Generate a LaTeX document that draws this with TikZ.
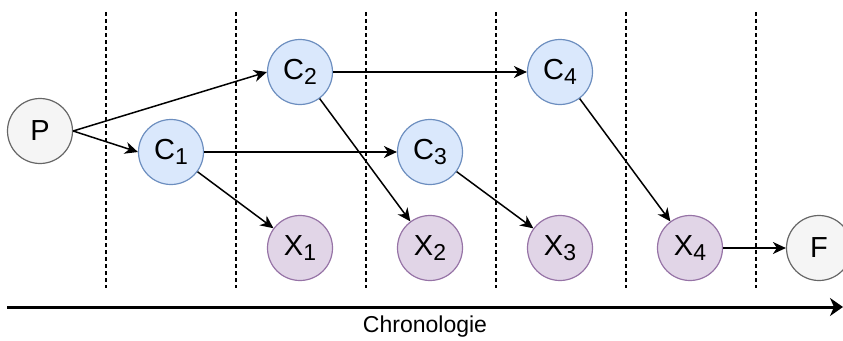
\documentclass[tikz,border=0pt]{standalone}
\usepackage{fontspec}
\setmainfont{Liberation Sans}
\usetikzlibrary{arrows.meta}

\definecolor{cfill}{HTML}{DAE8FC}
\definecolor{cline}{HTML}{6C8EBF}
\definecolor{xfill}{HTML}{E1D5E7}
\definecolor{xline}{HTML}{9673A6}
\definecolor{gfill}{HTML}{F5F5F5}
\definecolor{gline}{HTML}{666666}

\newcommand{\ind}[1]{\raisebox{-0.35ex}{\fontsize{23}{23}\selectfont #1}}

\begin{document}
\begin{tikzpicture}[x=1pt,y=-1pt,
  etat/.style={circle,minimum size=65pt,inner sep=0pt,line width=1.2pt,font=\fontsize{29}{32}\selectfont},
  cnode/.style={etat,fill=cfill,draw=cline},
  xnode/.style={etat,fill=xfill,draw=xline},
  gnode/.style={etat,fill=gfill,draw=gline},
  fleche/.style={line width=1.5pt,-{Stealth[length=13pt,width=12pt,inset=4pt]}},
  sep/.style={line width=1.3pt,dash pattern=on 4pt off 3pt}]

\useasboundingbox (0,0) rectangle (843,340);

% separations
\foreach \x in {106,236,366,496,626,756}
  \draw[sep] (\x,12) -- (\x,288);

% etats
\node[gnode] (P) at (40,131) {P};
\node[cnode] (C1) at (171,152) {C\ind{1}};
\node[cnode] (C2) at (300,72) {C\ind{2}};
\node[cnode] (C3) at (430,152) {C\ind{3}};
\node[cnode] (C4) at (560,72) {C\ind{4}};
\node[xnode] (X1) at (300,248) {X\ind{1}};
\node[xnode] (X2) at (430,248) {X\ind{2}};
\node[xnode] (X3) at (560,248) {X\ind{3}};
\node[xnode] (X4) at (690,248) {X\ind{4}};
\node[gnode] (F) at (819,248) {F};

% transitions
\draw[fleche] (P.east) -- (C2.west);
\draw[fleche] (P.east) -- (C1.west);
\draw[fleche] (C1.east) -- (C3.west);
\draw[fleche] (C2.east) -- (C4.west);
\draw[fleche] (C1) -- (X1);
\draw[fleche] (C2) -- (X2);
\draw[fleche] (C3) -- (X3);
\draw[fleche] (C4) -- (X4);
\draw[fleche] (X4.east) -- (F.west);

% axe du temps
\coordinate (t0) at (7,307);
\coordinate (t1) at (843,307);
\draw[line width=3pt,-{Stealth[length=13pt,width=18pt,inset=4pt]}] (t0) -- (t1)
  node[midway,below=4pt,font=\fontsize{23}{26}\selectfont] (axe) {Chronologie};

\end{tikzpicture}
\end{document}
